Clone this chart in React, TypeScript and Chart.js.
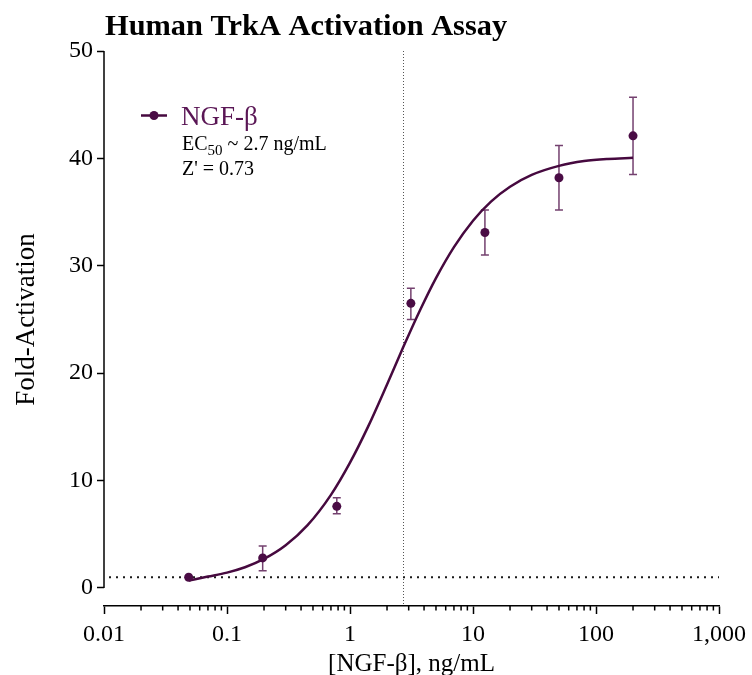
import React, { useEffect, useRef } from "react";
import { Chart, registerables } from "chart.js";

Chart.register(...registerables);

// ---- data ----
const DOSE = [0.0488, 0.195, 0.781, 3.125, 12.5, 50, 200];
const MEAN = [1.0, 2.8, 7.6, 26.5, 33.1, 38.2, 42.1];
const ERR_HIGH = [1.0, 3.9, 8.4, 27.9, 35.2, 41.2, 45.7];
const ERR_LOW = [1.0, 1.6, 6.9, 25.0, 31.0, 35.2, 38.5];

// fitted curve
const CURVE_X = [0.049, 0.07, 0.1, 0.14, 0.2, 0.3, 0.45, 0.7, 1, 1.4, 2, 2.7, 3.7, 5, 7, 10, 14, 20, 30, 50, 80, 125, 200];
const CURVE_Y = [0.7, 1.06, 1.43, 1.93, 2.7, 3.97, 5.82, 8.67, 11.67, 15.0, 18.95, 22.38, 25.83, 28.85, 31.74, 34.2, 35.98, 37.36, 38.46, 39.3, 39.75, 39.95, 40.05];

const X_TICKS = [0.01, 0.1, 1, 10, 100, 1000];
const X_TICK_LABELS = ["0.01", "0.1", "1", "10", "100", "1,000"];
const Y_TICKS = [0, 10, 20, 30, 40, 50];
const Y_MIN = -1.68;
const Y_MAX = 50;

const BASELINE = 1;
const EC50 = 2.7;

const TITLE = "Human TrkA Activation Assay";
const X_TITLE = "[NGF-\u03b2], ng/mL";
const Y_TITLE = "Fold-Activation";
const SERIES_NAME = "NGF-\u03b2";
const Z_TEXT = "Z' = 0.73";

const FONT = "'Liberation Serif', 'Times New Roman', serif";
const CURVE_COLOR = "#46093f";
const POINT_COLOR = "#4a0c45";
const ERR_COLOR = "#74416f";
const LEGEND_TEXT_COLOR = "#5a1655";

export default function App() {
  const ref = useRef<HTMLCanvasElement | null>(null);

  useEffect(() => {
    const canvas = ref.current;
    if (!canvas) return;

    const custom = {
      id: "custom",
      beforeDatasetsDraw(chart: any) {
        const ctx = chart.ctx;
        const xs = chart.scales.x;
        const ys = chart.scales.y;
        const ca = chart.chartArea;
        ctx.save();
        ctx.strokeStyle = "#1a1a1a";
        ctx.lineWidth = 2;
        ctx.setLineDash([2, 5]);
        const yb = ys.getPixelForValue(BASELINE);
        ctx.beginPath();
        ctx.moveTo(ca.left + 5, yb);
        ctx.lineTo(ca.right, yb);
        ctx.stroke();
        ctx.strokeStyle = "#555";
        ctx.lineWidth = 1;
        ctx.setLineDash([1, 2]);
        const xe = Math.round(xs.getPixelForValue(EC50)) + 0.5;
        ctx.beginPath();
        ctx.moveTo(xe, ca.top);
        ctx.lineTo(xe, ca.bottom);
        ctx.stroke();
        ctx.setLineDash([]);
        ctx.strokeStyle = ERR_COLOR;
        ctx.lineWidth = 1.5;
        DOSE.forEach((d, i) => {
          if (ERR_HIGH[i] === ERR_LOW[i]) return;
          const px = xs.getPixelForValue(d);
          const yh = ys.getPixelForValue(ERR_HIGH[i]);
          const yl = ys.getPixelForValue(ERR_LOW[i]);
          ctx.beginPath();
          ctx.moveTo(px, yh);
          ctx.lineTo(px, yl);
          ctx.moveTo(px - 4, yh);
          ctx.lineTo(px + 4, yh);
          ctx.moveTo(px - 4, yl);
          ctx.lineTo(px + 4, yl);
          ctx.stroke();
        });
        ctx.restore();
      },
      afterDraw(chart: any) {
        const ctx = chart.ctx;
        const xs = chart.scales.x;
        const ys = chart.scales.y;
        const ca = chart.chartArea;
        ctx.save();
        ctx.strokeStyle = "#000";
        ctx.lineWidth = 1.5;
        ctx.beginPath();
        ctx.moveTo(ca.left, ys.getPixelForValue(Y_TICKS[0]));
        ctx.lineTo(ca.left, ys.getPixelForValue(Y_TICKS[Y_TICKS.length - 1]));
        ctx.stroke();
        for (let i = 0; i < X_TICKS.length - 1; i++) {
          for (let k = 2; k <= 9; k++) {
            const px = xs.getPixelForValue(X_TICKS[i] * k);
            ctx.beginPath();
            ctx.moveTo(px, ca.bottom);
            ctx.lineTo(px, ca.bottom + 4.5);
            ctx.stroke();
          }
        }
        ctx.fillStyle = "#000";
        ctx.textBaseline = "alphabetic";
        ctx.textAlign = "left";
        ctx.font = `bold 30.4px ${FONT}`;
        ctx.fillText(TITLE, 105, 35);
        ctx.font = `25px ${FONT}`;
        ctx.textAlign = "center";
        ctx.fillText(X_TITLE, (ca.left + ca.right) / 2, 671);
        ctx.save();
        ctx.font = `27px ${FONT}`;
        ctx.translate(34, ys.getPixelForValue(25));
        ctx.rotate(-Math.PI / 2);
        ctx.fillText(Y_TITLE, 0, 0);
        ctx.restore();
        ctx.strokeStyle = CURVE_COLOR;
        ctx.lineWidth = 2.5;
        ctx.beginPath();
        ctx.moveTo(141, 115.5);
        ctx.lineTo(167, 115.5);
        ctx.stroke();
        ctx.fillStyle = POINT_COLOR;
        ctx.beginPath();
        ctx.arc(154, 115.5, 4.5, 0, Math.PI * 2);
        ctx.fill();
        ctx.textAlign = "left";
        ctx.fillStyle = LEGEND_TEXT_COLOR;
        ctx.font = `27px ${FONT}`;
        ctx.fillText(SERIES_NAME, 181, 125);
        ctx.fillStyle = "#000";
        ctx.font = `20px ${FONT}`;
        let x = 182;
        ctx.fillText("EC", x, 150);
        x += ctx.measureText("EC").width;
        ctx.font = `15px ${FONT}`;
        ctx.fillText("50", x, 155);
        x += ctx.measureText("50").width;
        ctx.font = `20px ${FONT}`;
        ctx.fillText(" ~ 2.7 ng/mL", x, 150);
        ctx.fillText(Z_TEXT, 182, 175);
        ctx.restore();
      },
    };

    const chart = new Chart(canvas, {
      type: "scatter",
      data: {
        datasets: [
          {
            type: "line",
            data: CURVE_X.map((x, i) => ({ x, y: CURVE_Y[i] })),
            borderColor: CURVE_COLOR,
            borderWidth: 2.5,
            pointRadius: 0,
            cubicInterpolationMode: "monotone",
            fill: false,
            order: 2,
          } as any,
          {
            type: "scatter",
            data: DOSE.map((x, i) => ({ x, y: MEAN[i] })),
            backgroundColor: POINT_COLOR,
            borderColor: POINT_COLOR,
            pointRadius: 4.5,
            borderWidth: 0,
            order: 1,
          } as any,
        ],
      },
      options: {
        animation: false,
        responsive: false,
        devicePixelRatio: 1,
        layout: { padding: { left: 0, right: 31, top: 51, bottom: 0 } },
        plugins: {
          legend: { display: false },
          tooltip: { enabled: false },
          title: { display: false },
        },
        scales: {
          x: {
            type: "logarithmic",
            min: X_TICKS[0],
            max: X_TICKS[X_TICKS.length - 1],
            afterBuildTicks: (s: any) => {
              s.ticks = X_TICKS.map((v) => ({ value: v }));
            },
            afterFit: (s: any) => {
              s.height = 69;
            },
            ticks: {
              autoSkip: false,
              maxRotation: 0,
              padding: 6,
              color: "#000",
              font: { family: FONT, size: 24 },
              callback: (_v: any, i: number) => X_TICK_LABELS[i],
            },
            grid: {
              drawOnChartArea: false,
              drawTicks: true,
              tickLength: 8,
              tickColor: "#000",
              tickWidth: 1.5,
            },
            border: { display: true, color: "#000", width: 1.5 },
          },
          y: {
            type: "linear",
            min: Y_MIN,
            max: Y_MAX,
            afterBuildTicks: (s: any) => {
              s.ticks = Y_TICKS.map((v) => ({ value: v }));
            },
            afterFit: (s: any) => {
              s.width = 104;
            },
            ticks: {
              padding: 4,
              color: "#000",
              font: { family: FONT, size: 24 },
              callback: (v: any) => String(v),
            },
            grid: {
              drawOnChartArea: false,
              drawTicks: true,
              tickLength: 7,
              tickColor: "#000",
              tickWidth: 1.5,
            },
            border: { display: false },
          },
        },
      } as any,
      plugins: [custom],
    });

    return () => chart.destroy();
  }, []);

  return (
    <div style={{ position: "fixed", left: 0, top: 0, width: 752, height: 675, background: "#fff" }}>
      <canvas ref={ref} width={752} height={675} style={{ display: "block", width: 752, height: 675 }} />
    </div>
  );
}
